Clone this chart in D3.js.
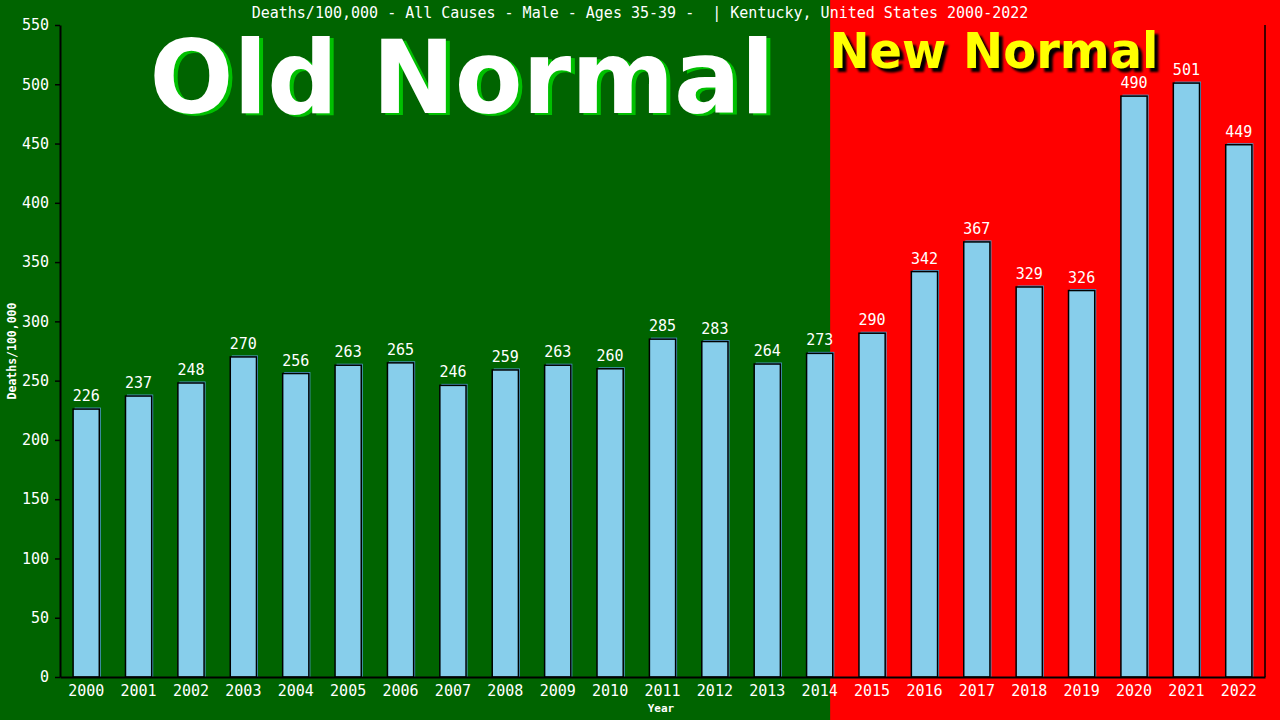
<!DOCTYPE html>
<html><head><meta charset="utf-8">
<script src="https://cdn.jsdelivr.net/npm/d3@7"></script>
<style>html,body{margin:0;padding:0;background:#006400;}svg{display:block;}</style>
</head><body>
<svg id="chart" width="1280" height="720"></svg>
<script>
const years = ["2000","2001","2002","2003","2004","2005","2006","2007","2008","2009","2010","2011","2012","2013","2014","2015","2016","2017","2018","2019","2020","2021","2022"];
const deaths = [226,237,248,270,256,263,265,246,259,263,260,285,283,264,273,290,342,367,329,326,490,501,449];
const yTicks = [0,50,100,150,200,250,300,350,400,450,500,550];
const titleText = "Deaths/100,000 - All Causes - Male - Ages 35-39 -  | Kentucky, United States 2000-2022";
const oldLabel = "Old Normal";
const newLabel = "New Normal";
const splitYear = "2014";

const W = 1280, H = 720;
const m = {l:60, r:15, t:25, b:43};
const svg = d3.select("#chart");
const x = d3.scaleBand().domain(years).range([m.l, W - m.r]).paddingInner(0.5).paddingOuter(0.25);
const y = d3.scaleLinear().domain([0, 550]).range([H - m.b, m.t]);
const mono = "'DejaVu Sans Mono', 'Liberation Mono', monospace";

const splitX = x(splitYear) + x.step()*0.45;
// backgrounds
svg.append("rect").attr("x",0).attr("y",0).attr("width",W).attr("height",H).attr("fill","#006400");
svg.append("rect").attr("x",splitX).attr("y",0).attr("width",W-splitX).attr("height",H).attr("fill","#ff0000");

// big labels
const oldCx = 462;
svg.append("text").attr("x",oldCx+4).attr("y",115).attr("text-anchor","middle")
  .attr("font-family","'DejaVu Sans', Verdana, sans-serif").attr("font-weight","bold").attr("font-size",102)
  .attr("textLength",625).attr("lengthAdjust","spacingAndGlyphs")
  .attr("fill","#00c000").text(oldLabel);
svg.append("text").attr("x",oldCx).attr("y",113).attr("text-anchor","middle")
  .attr("font-family","'DejaVu Sans', Verdana, sans-serif").attr("font-weight","bold").attr("font-size",102)
  .attr("textLength",625).attr("lengthAdjust","spacingAndGlyphs")
  .attr("fill","#ffffff").text(oldLabel);

const defs = svg.append("defs");
defs.append("filter").attr("id","blur").append("feGaussianBlur").attr("stdDeviation",1.2);
const newCx = 994;
svg.append("text").attr("x",newCx+4).attr("y",72).attr("text-anchor","middle")
  .attr("font-family","'DejaVu Sans', Verdana, sans-serif").attr("font-weight","bold").attr("font-size",49)
  .attr("textLength",329).attr("lengthAdjust","spacingAndGlyphs")
  .attr("fill","#000").attr("filter","url(#blur)").text(newLabel);
svg.append("text").attr("x",newCx).attr("y",68).attr("text-anchor","middle")
  .attr("font-family","'DejaVu Sans', Verdana, sans-serif").attr("font-weight","bold").attr("font-size",49)
  .attr("textLength",329).attr("lengthAdjust","spacingAndGlyphs")
  .attr("fill","#ffff00").text(newLabel);

// title
svg.append("text").attr("x",640).attr("y",18).attr("text-anchor","middle")
  .attr("font-family",mono).attr("font-size",15).attr("fill","#fff")
  .attr("xml:space","preserve").style("white-space","pre").text(titleText);

// bars
const bars = svg.append("g");
bars.selectAll("rect.sh").data(deaths).join("rect").attr("class","sh")
  .attr("x",(d,i)=>x(years[i])+1.5).attr("y",d=>y(d)-1.5)
  .attr("width",x.bandwidth()).attr("height",d=>y(0)-y(d)+1.5)
  .attr("fill","#4f9fcf");
bars.selectAll("rect.b").data(deaths).join("rect").attr("class","b")
  .attr("x",(d,i)=>x(years[i])).attr("y",d=>y(d))
  .attr("width",x.bandwidth()).attr("height",d=>y(0)-y(d))
  .attr("fill","#87ceeb").attr("stroke","#000").attr("stroke-width",1.5);
bars.selectAll("text").data(deaths).join("text")
  .attr("x",(d,i)=>x(years[i])+x.bandwidth()/2).attr("y",d=>y(d)-8)
  .attr("text-anchor","middle").attr("font-family",mono).attr("font-size",15).attr("fill","#fff")
  .text(d=>d);

// y axis
const ya = svg.append("g").attr("transform",`translate(${m.l},0)`)
  .call(d3.axisLeft(y).tickValues(yTicks).tickSize(5).tickPadding(6).tickSizeOuter(0));
ya.select(".domain").attr("stroke","#000").attr("stroke-width",2);
ya.selectAll(".tick line").attr("stroke","#000").attr("stroke-width",1.5);
ya.selectAll(".tick text").attr("fill","#fff").attr("font-family",mono).attr("font-size",15);

// x axis
const xa = svg.append("g").attr("transform",`translate(0,${y(0)})`)
  .call(d3.axisBottom(x).tickSize(0).tickPadding(8));
xa.select(".domain").attr("stroke","#000").attr("stroke-width",2);
xa.selectAll(".tick text").attr("fill","#fff").attr("font-family",mono).attr("font-size",15).attr("dy","0.71em");

// right frame
svg.append("line").attr("x1",W-m.r).attr("x2",W-m.r).attr("y1",m.t).attr("y2",y(0))
  .attr("stroke","#000").attr("stroke-width",1.5);

// axis titles
svg.append("text").attr("x",661).attr("y",712).attr("text-anchor","middle")
  .attr("font-family",mono).attr("font-weight","bold").attr("font-size",11).attr("fill","#fff").text("Year");
svg.append("text").attr("transform","translate(16,351) rotate(-90)").attr("text-anchor","middle")
  .attr("font-family",mono).attr("font-weight","bold").attr("font-size",11.5).attr("fill","#fff").text("Deaths/100,000");
</script>
</body></html>
